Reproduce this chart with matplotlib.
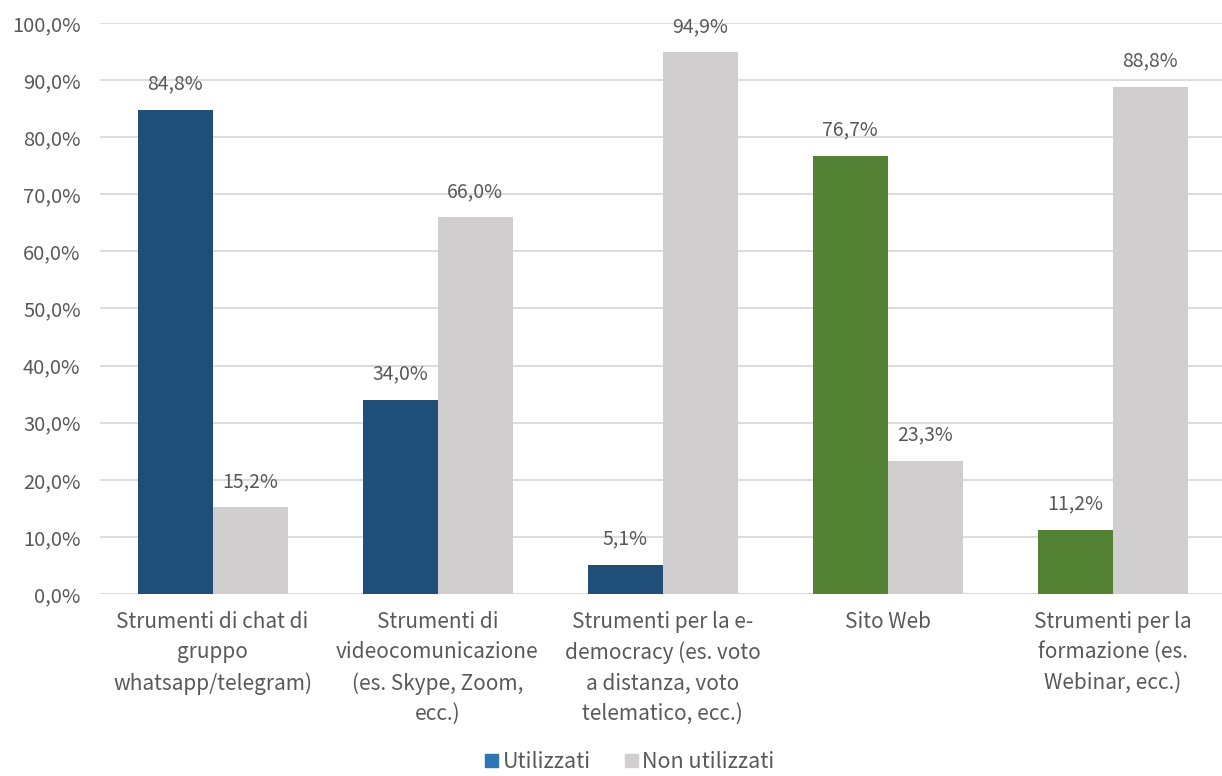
import matplotlib
matplotlib.use("Agg")
import matplotlib.pyplot as plt
import numpy as np

plt.rcParams['font.family'] = ['Noto Sans CJK SC', 'DejaVu Sans']

categorie = [
    "Strumenti di chat di\ngruppo\nwhatsapp/telegram)",
    "Strumenti di\nvideocomunicazione\n(es. Skype, Zoom,\necc.)",
    "Strumenti per la e-\ndemocracy (es. voto\na distanza, voto\ntelematico, ecc.)",
    "Sito Web",
    "Strumenti per la\nformazione (es.\nWebinar, ecc.)",
]
utilizzati = [84.8, 34.0, 5.1, 76.7, 11.2]
non_utilizzati = [15.2, 66.0, 94.9, 23.3, 88.8]
colori_utilizzati = ["#1F4E79", "#1F4E79", "#1F4E79", "#548235", "#548235"]
grigio = "#D0CECE"
testo = "#595959"

fig = plt.figure(figsize=(12.22, 7.76), dpi=100)
ax = fig.add_axes([100 / 1222, 182 / 776, 1125 / 1222, 571 / 776])

x = np.arange(len(categorie))
w = 1 / 3
b1 = ax.bar(x - w / 2, utilizzati, w, color=colori_utilizzati, zorder=2)
b2 = ax.bar(x + w / 2, non_utilizzati, w, color=grigio, zorder=2)

def fmt(v):
    return f"{v:.1f}%".replace(".", ",")

for bars, vals in [(b1, utilizzati), (b2, non_utilizzati)]:
    for r, v in zip(bars, vals):
        ax.annotate(fmt(v), (r.get_x() + r.get_width() / 2, v),
                    xytext=(0, 11), textcoords="offset points",
                    ha="center", va="bottom", fontsize=14, color=testo)

ax.set_xlim(-0.5, 4.5)
ax.set_ylim(0, 100)
ax.set_yticks(np.arange(0, 101, 10))
ax.set_yticklabels([fmt(v) for v in np.arange(0, 101, 10)], fontsize=14.5)
ax.set_xticks(x)
ax.set_xticklabels(categorie, linespacing=1.5, fontsize=15)
ax.tick_params(axis="both", length=0, colors=testo)
ax.tick_params(axis="y", pad=14)
ax.tick_params(axis="x", pad=12)
ax.yaxis.grid(True, color="#D9D9D9", linewidth=1.3, zorder=0)
for s in ax.spines.values():
    s.set_visible(False)
ax.axhline(0, color="#D9D9D9", linewidth=1.3, zorder=1)

# legenda: il blu del primo gruppo
h1 = plt.Rectangle((0, 0), 1, 1, color="#2E75B6")
h2 = plt.Rectangle((0, 0), 1, 1, color=grigio)
fig.legend([h1, h2], ["Utilizzati", "Non utilizzati"], loc="center",
           bbox_to_anchor=(630 / 1222, 14 / 776), ncol=2, frameon=False,
           fontsize=15.5, labelcolor=testo, handlelength=0.6, handleheight=0.6,
           handletextpad=0.2, columnspacing=1.6)

fig.savefig("out.png", dpi=100)
